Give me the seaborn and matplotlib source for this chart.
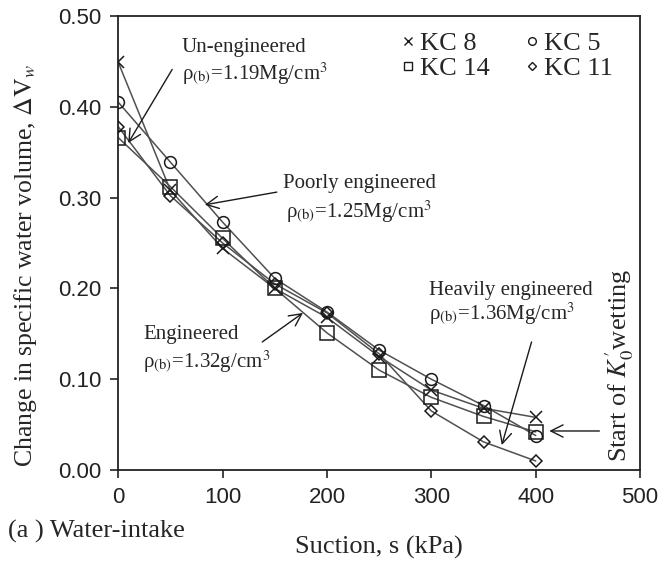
import matplotlib
matplotlib.use("Agg")
import matplotlib.pyplot as plt
import seaborn as sns
import pandas as pd

# Suction steps (kPa) and change in specific water volume for each specimen
suction = [0, 50, 100, 150, 200, 250, 300, 350, 400]
kc8 = [0.449, 0.308, 0.244, 0.200, 0.168, 0.125, 0.088, 0.068, 0.058]
kc5 = [0.405, 0.339, 0.273, 0.211, 0.174, 0.132, 0.100, 0.071, 0.038]
kc14 = [0.366, 0.312, 0.255, 0.200, 0.151, 0.110, 0.080, 0.059, 0.042]
kc11 = [0.378, 0.302, 0.250, 0.205, 0.173, 0.128, 0.065, 0.031, 0.010]

series_names = ["KC 8", "KC 5", "KC 14", "KC 11"]
series_values = [kc8, kc5, kc14, kc11]
markers = {"KC 8": "x", "KC 5": "o", "KC 14": "s", "KC 11": "D"}
marker_sizes = {"KC 8": 9, "KC 5": 8.5, "KC 14": 9.5, "KC 11": 6}

x_ticks = [0, 100, 200, 300, 400, 500]
y_ticks = [0.0, 0.1, 0.2, 0.3, 0.4, 0.5]

sns.set_theme(style="white")
plt.rcParams["font.family"] = ["Liberation Serif", "DejaVu Serif"]
plt.rcParams["mathtext.fontset"] = "stix"

df = pd.DataFrame(
    [(s, x, v) for s, vals in zip(series_names, series_values) for x, v in zip(suction, vals)],
    columns=["sample", "suction", "dvw"],
)

fig = plt.figure(figsize=(6.64, 5.67), dpi=100)
ax = fig.add_axes([0.178, 0.171, 0.786, 0.801])

line_color = "#505050"
for name in series_names:
    sub = df[df["sample"] == name]
    sns.lineplot(data=sub, x="suction", y="dvw", ax=ax, color=line_color, lw=1.1,
                 estimator=None, sort=False, legend=False)
    ax.plot(sub["suction"], sub["dvw"], linestyle="none", marker=markers[name],
            markersize=marker_sizes[name], markerfacecolor="none",
            markeredgecolor="#1a1a1a", markeredgewidth=1.1, zorder=3)

ax.set_xlim(0, 500)
ax.set_ylim(0, 0.5)
ax.set_xticks(x_ticks)
ax.set_yticks(y_ticks)
ax.set_yticklabels([f"{v:.2f}" for v in y_ticks])
for lab in ax.get_xticklabels() + ax.get_yticklabels():
    lab.set_fontfamily("Liberation Sans")
    lab.set_fontsize(16)
    lab.set_color("#222222")
ax.tick_params(direction="out", length=6, width=1.2, color="#222222", pad=6,
               bottom=True, left=True)
for sp in ax.spines.values():
    sp.set_color("#222222")
    sp.set_linewidth(1.3)

ax.set_xlabel("Suction, s (kPa)", fontsize=19, labelpad=20)
ax.set_ylabel(r"Change in specific water volume, $\Delta\mathrm{V}_w$", fontsize=18.5, labelpad=10)
ax.yaxis.set_label_coords(-0.152, 0.45)
fig.text(0.012, 0.062, "(a ) Water-intake", fontsize=19, ha="left", va="center")

# legend: two columns, marker next to label
order = ["KC 8", "KC 14", "KC 5", "KC 11"]
leg_handles = []
for name in order:
    h, = ax.plot([], [], linestyle="none", marker=markers[name],
                 markersize=marker_sizes[name] * 0.65, markerfacecolor="none",
                 markeredgecolor="#1a1a1a", markeredgewidth=1.0)
    leg_handles.append(h)
ax.legend(leg_handles, order, ncol=2, frameon=False, loc="upper left",
          bbox_to_anchor=(0.51, 1.0), fontsize=19, handlelength=0.6,
          handletextpad=0.15, columnspacing=1.3, labelspacing=0.05,
          borderaxespad=0.2)

arrow = dict(arrowstyle="->", color="#1a1a1a", lw=1.0, mutation_scale=22,
             shrinkA=0, shrinkB=0)
tfs = 15
rho = r"ρ$_{\mathrm{(b)}}$"

# Un-engineered
ax.text(61, 0.465, "Un-engineered", fontsize=tfs, ha="left", va="center")
ax.text(61, 0.436, rho + r"=1.19Mg/cm$^{\mathrm{3}}$", fontsize=tfs, ha="left", va="center")
ax.annotate("", xy=(9.6, 0.360), xytext=(51.7, 0.441), arrowprops=arrow)

# Poorly engineered
ax.text(158, 0.316, "Poorly engineered", fontsize=tfs, ha="left", va="center")
ax.text(161, 0.285, rho + r"=1.25Mg/cm$^{\mathrm{3}}$", fontsize=tfs, ha="left", va="center")
ax.annotate("", xy=(83, 0.292), xytext=(152, 0.306), arrowprops=arrow)

# Engineered
ax.text(24, 0.149, "Engineered", fontsize=tfs, ha="left", va="center")
ax.text(24, 0.119, rho + r"=1.32g/cm$^{\mathrm{3}}$", fontsize=tfs, ha="left", va="center")
ax.annotate("", xy=(177, 0.173), xytext=(138, 0.141), arrowprops=arrow)

# Heavily engineered
ax.text(298, 0.198, "Heavily engineered", fontsize=tfs, ha="left", va="center")
ax.text(298, 0.172, rho + r"=1.36Mg/cm$^{\mathrm{3}}$", fontsize=tfs, ha="left", va="center")
ax.annotate("", xy=(367.5, 0.0275), xytext=(396, 0.141), arrowprops=arrow)

# Start of wetting
ax.text(480, 0.115, r"Start of $K_0'$wetting", fontsize=19, rotation=90,
        ha="center", va="center")
ax.annotate("", xy=(413, 0.043), xytext=(461, 0.043), arrowprops=arrow)

fig.savefig("out.png", dpi=100, facecolor="white")
